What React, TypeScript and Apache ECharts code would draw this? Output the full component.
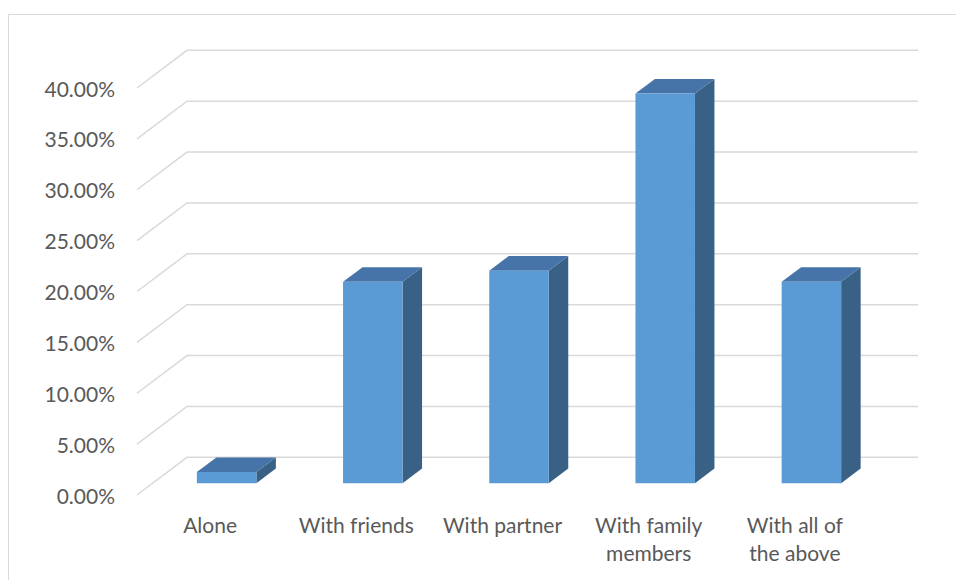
import React, { useEffect, useRef } from "react";
import * as echarts from "echarts";

const categories = ["Alone", "With friends", "With partner", "With family\nmembers", "With all of\nthe above"];
const shares = [1.1, 19.8, 20.9, 38.3, 19.8];
const yTicks = [0, 5, 10, 15, 20, 25, 30, 35, 40];

const DEPTH_X = 50;
const DEPTH_Y = -37.7;
const BAR_FRONT = 0.31;
const BAR_BACK = 0.7;
const BAR_WIDTH = 0.407;
const BAR_SHIFT = 1;
const FONT = "Lato, 'Open Sans', sans-serif";

export default function App() {
  const ref = useRef<HTMLDivElement>(null);
  useEffect(() => {
    if (!ref.current) return;
    const chart = echarts.init(ref.current, null, { renderer: "svg" });
    chart.setOption({
      animation: false,
      backgroundColor: "#ffffff",
      graphic: [
        {
          type: "rect",
          shape: { x: 8.5, y: 14.5, width: 1200, height: 1200 },
          style: { fill: "none", stroke: "#D9D9D9", lineWidth: 1 },
          silent: true,
        },
      ],
      grid: { left: 137, right: 88, top: 88, bottom: 85, containLabel: false },
      xAxis: {
        type: "category",
        data: categories,
        axisLine: { show: false },
        axisTick: { show: false },
        splitLine: { show: false },
        axisLabel: {
          color: "#595959",
          fontSize: 21,
          fontFamily: FONT,
          margin: 15,
          lineHeight: 28,
          interval: 0,
        },
      },
      yAxis: {
        type: "value",
        min: 0,
        max: 40,
        interval: 5,
        axisLine: { show: false },
        axisTick: { show: false },
        splitLine: { show: false },
        axisLabel: {
          color: "#595959",
          fontSize: 21,
          fontFamily: FONT,
          margin: 22,
          formatter: (v: number) => v.toFixed(2) + "%",
        },
      },
      series: [
        {
          type: "custom",
          silent: true,
          data: yTicks.map((v) => [0, v]),
          encode: { x: 0, y: 1 },
          z: 1,
          renderItem: (params: any, api: any) => {
            const cs = params.coordSys;
            const p = api.coord([0, api.value(1)]);
            const y = p[1];
            const x0 = cs.x;
            const x1 = cs.x + cs.width;
            return {
              type: "polyline",
              shape: {
                points: [
                  [x0, y],
                  [x0 + DEPTH_X, y + DEPTH_Y],
                  [x1 + DEPTH_X, y + DEPTH_Y],
                ],
              },
              style: { fill: "none", stroke: "#D9D9D9", lineWidth: 1.5 },
            };
          },
        },
        {
          type: "custom",
          silent: true,
          data: shares.map((v, i) => [i, v]),
          encode: { x: 0, y: 1 },
          z: 2,
          renderItem: (params: any, api: any) => {
            const i = api.value(0);
            const base = api.coord([i, 0]);
            const top = api.coord([i, api.value(1)]);
            const band = api.size([1, 0])[0];
            const w = band * BAR_WIDTH;
            const fx = DEPTH_X * BAR_FRONT + BAR_SHIFT;
            const fy = DEPTH_Y * BAR_FRONT;
            const dx = DEPTH_X * (BAR_BACK - BAR_FRONT);
            const dy = DEPTH_Y * (BAR_BACK - BAR_FRONT);
            const xl = base[0] - w / 2 + fx;
            const xr = base[0] + w / 2 + fx;
            const yb = base[1] + fy;
            const yt = top[1] + fy;
            return {
              type: "group",
              children: [
                {
                  type: "polygon",
                  shape: { points: [[xr, yt], [xr + dx, yt + dy], [xr + dx, yb + dy], [xr, yb]] },
                  style: { fill: "#386185" },
                },
                {
                  type: "polygon",
                  shape: { points: [[xl, yt], [xr, yt], [xr + dx, yt + dy], [xl + dx, yt + dy]] },
                  style: { fill: "#4674A8" },
                },
                {
                  type: "polygon",
                  shape: { points: [[xl, yt], [xr, yt], [xr, yb], [xl, yb]] },
                  style: { fill: "#5B9BD5" },
                },
              ],
            };
          },
        },
      ],
    });
    return () => chart.dispose();
  }, []);
  return (
    <div
      ref={ref}
      style={{ position: "fixed", left: 0, top: 0, width: 956, height: 580 }}
    />
  );
}
